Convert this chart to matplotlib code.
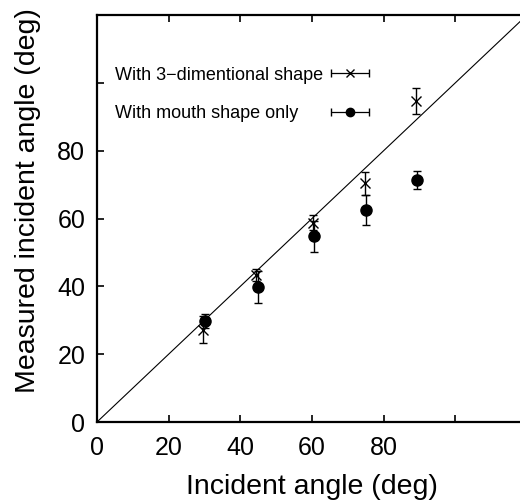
import numpy as np
import matplotlib
matplotlib.use("Agg")
import matplotlib.pyplot as plt
from matplotlib.legend_handler import HandlerErrorbar

plt.rcParams['font.family'] = ['Liberation Sans', 'DejaVu Sans']

# Data
ref_line = [0, 120]
cross_x = [29.5, 44.3, 60.2, 74.8, 89.0]
cross_y = [27.2, 43.3, 58.8, 70.4, 94.6]
cross_err = [4.0, 1.8, 2.2, 3.4, 3.8]
dot_x = [30.0, 44.8, 60.6, 75.2, 89.3]
dot_y = [29.7, 39.8, 54.7, 62.6, 71.4]
dot_err = [2.0, 4.8, 4.5, 4.4, 2.6]
tick_vals = [0, 20, 40, 60, 80, 100]
tick_labels = ['0', '20', '40', '60', '80', '']
label_3d = 'With 3\u2212dimentional shape'
label_mouth = 'With mouth shape only'

fig = plt.figure(figsize=(5.2, 5.0), dpi=100)
ax = fig.add_axes([97/520, 78/500, 430/520, 407/500])

ax.plot(ref_line, ref_line, color='black', lw=0.8)

ax.errorbar(cross_x, cross_y, yerr=cross_err, fmt='x', color='black',
            ms=7, mew=1.0, elinewidth=1.0, capsize=3, capthick=1.0)
ax.errorbar(dot_x, dot_y, yerr=dot_err, fmt='o', color='black',
            ms=8, elinewidth=1.0, capsize=3, capthick=1.0)

# legend proxies (horizontal error bars)
h1 = ax.errorbar([np.nan], [np.nan], xerr=[1], fmt='x', color='black',
                 ms=6, mew=1.0, elinewidth=0.9, capsize=3, capthick=1.0)
h2 = ax.errorbar([np.nan], [np.nan], xerr=[1], fmt='o', color='black',
                 ms=6, elinewidth=0.9, capsize=3, capthick=1.0)
leg = ax.legend([h1, h2], [label_3d, label_mouth], loc='upper left',
                bbox_to_anchor=(0.042, 0.873), frameon=False, markerfirst=False,
                fontsize=13, handlelength=2.2, labelspacing=1.2, borderpad=0,
                borderaxespad=0, handletextpad=0.4,
                handler_map={type(h1): HandlerErrorbar(xerr_size=1.05)})

ax.set_xlim(0, 120)
ax.set_ylim(0, 120)
ax.set_xticks(tick_vals)
ax.set_xticklabels(tick_labels)
ax.set_yticks(tick_vals)
ax.set_yticklabels(tick_labels)
ax.tick_params(direction='in', length=5, width=1.2, top=True, right=True,
               labelsize=18)
ax.tick_params(axis='x', pad=10)
ax.tick_params(axis='y', pad=8.5)
for s in ax.spines.values():
    s.set_linewidth(1.6)

ax.set_xlabel('Incident angle (deg)', fontsize=20.5, labelpad=10)
ax.set_ylabel('Measured incident angle (deg)', fontsize=20.5)
ax.yaxis.set_label_coords(-0.13, 0.543)

# left-align legend texts, right-align handles
fig.canvas.draw()
r = fig.canvas.get_renderer()
widths = [t.get_window_extent(r).width for t in leg.get_texts()]
ppx = r.points_to_pixels(1.0)
col = leg._legend_handle_box.get_children()[0]
for row, w in zip(col.get_children(), widths):
    row.sep = row.sep + (max(widths) - w) / ppx
col.align = 'left'

fig.savefig('out.png', dpi=100)
